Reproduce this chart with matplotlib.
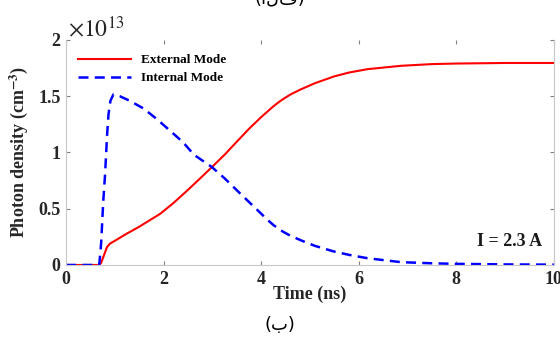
import numpy as np
import matplotlib
matplotlib.use("Agg")
import matplotlib.pyplot as plt

# photon density values, in units of 1e13 cm^-3
t_ext = [0, 0.68, 0.72, 0.78, 0.84, 0.9, 1.0, 1.25, 1.5, 1.93, 2.2, 2.48, 2.75, 2.99,
         3.25, 3.51, 3.75, 3.99, 4.12, 4.25, 4.4, 4.6, 4.81, 5.1, 5.49, 5.8, 6.18, 6.87,
         7.5, 8.0, 9.0, 10]
n_ext = [0, 0, 0.02, 0.09, 0.16, 0.19, 0.215, 0.28, 0.34, 0.455, 0.55, 0.66, 0.77, 0.87,
         0.98, 1.10, 1.21, 1.31, 1.36, 1.41, 1.46, 1.515, 1.56, 1.615, 1.675, 1.71, 1.74,
         1.77, 1.785, 1.79, 1.795, 1.795]

t_int = [0, 0.68, 0.72, 0.76, 0.80, 0.84, 0.87, 0.91, 0.97, 1.1, 1.3, 1.59, 1.85, 2.14, 2.4,
         2.62, 2.99, 3.25, 3.51, 3.75, 3.99, 4.12, 4.25, 4.45, 4.6, 4.81, 5.1, 5.49, 5.8,
         6.18, 6.87, 7.5, 8, 9, 10]
n_int = [0, 0, 0.2, 0.55, 0.81, 1.15, 1.34, 1.46, 1.515, 1.50, 1.46, 1.39, 1.30, 1.19, 1.09,
         0.98, 0.87, 0.77, 0.66, 0.56, 0.46, 0.405, 0.355, 0.295, 0.26, 0.22, 0.17, 0.12,
         0.09, 0.06, 0.025, 0.015, 0.01, 0.005, 0.003]

xticks = [0, 2, 4, 6, 8, 10]
yticks = [0, 0.5, 1, 1.5, 2]
yticklabels = ["0", "0.5", "1", "1.5", "2"]

serif = "Liberation Serif"
plt.rcParams["mathtext.fontset"] = "stix"

fig = plt.figure(figsize=(5.6, 3.44), dpi=100)
ax = fig.add_axes([0.118, 0.2297, 0.871, 0.6543])

ax.plot(t_ext, n_ext, color="#ff0000", lw=1.5, label="External Mode")
ax.plot(t_int, n_int, color="#0000ff", lw=1.8, ls=(0, (4, 2.5)), label="Internal Mode")

ax.set_xlim(0, 10)
ax.set_ylim(0, 2)
ax.set_xticks(xticks)
ax.set_yticks(yticks)
ax.set_yticklabels(yticklabels)
ax.tick_params(direction="in", length=3, color="#808080", top=True, right=True,
               labelsize=13, pad=4)
for lab in ax.get_xticklabels() + ax.get_yticklabels():
    lab.set_fontfamily(serif)
    lab.set_fontweight("bold")
    lab.set_color("#262626")
ax.spines["top"].set_visible(False)
for s in ["left", "bottom", "right"]:
    ax.spines[s].set_color("#c8c8c8")
    ax.spines[s].set_linewidth(0.8)

ax.set_xlabel("Time (ns)", family=serif, weight="bold", fontsize=13, labelpad=-1, color="#262626")
ax.set_ylabel("Photon density (cm$^{\\mathbf{-3}}$)", family=serif, weight="bold", fontsize=13,
              labelpad=6, color="#262626")

ax.text(0.003, 1.015, r"$\times10^{13}$", transform=ax.transAxes, fontsize=17, color="#262626")

leg = ax.legend(loc="upper left", frameon=False, prop={"family": serif, "weight": "bold", "size": 9.5},
                handlelength=4.0, bbox_to_anchor=(0.0, 0.99), labelspacing=0.45)

ax.text(0.975, 0.105, "I = 2.3 A", transform=ax.transAxes, ha="right", va="center",
        family=serif, weight="bold", fontsize=13, color="#1a1a1a")

fig.text(0.5, 0.055, "(ب)", ha="center", va="center", fontsize=13, family="DejaVu Sans")
fig.text(0.5, 1.005, "(الف)", ha="center", va="center", fontsize=13, family="DejaVu Sans")

fig.savefig("out.png", dpi=100)
